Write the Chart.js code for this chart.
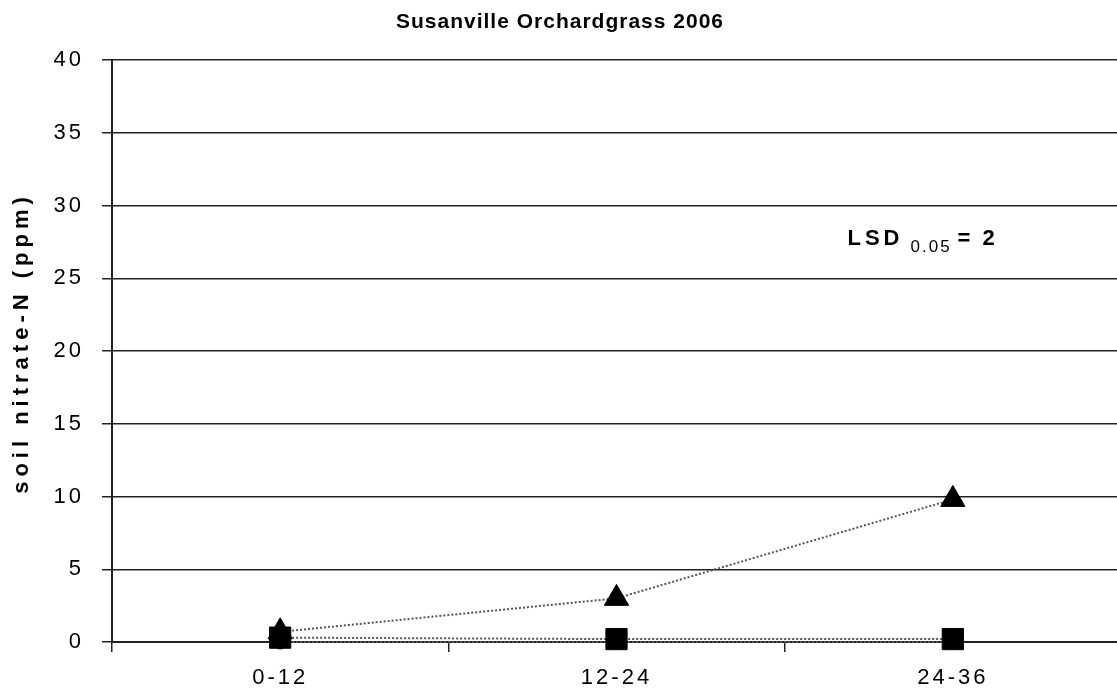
<!DOCTYPE html>
<html lang="en">
<head>
  <meta charset="UTF-8">
  <title>Susanville Orchardgrass 2006</title>
  <style>
    body {
      margin: 0;
      background: #fff;
      overflow: hidden;
    }
    canvas {
      display: block;
    }
  </style>
</head>
<body>
  <canvas id="nitrateChart" width="1121" height="698"></canvas>
  <script src="https://cdn.jsdelivr.net/npm/chart.js"></script>
  <script>
    // Soil depth ranges (inches)
    const depths = ["0-12", "12-24", "24-36"];

    // Soil nitrate-N (ppm) for each treatment
    const triangleSeries = [0.7, 3.0, 9.8];
    const squareSeries = [0.3, 0.2, 0.2];
    const circleSeries = [0, 0, 0];

    const yTicks = [0, 5, 10, 15, 20, 25, 30, 35, 40];

    const chartTitle = "Susanville Orchardgrass 2006";
    const yTitle = "soil nitrate-N (ppm)";

    const fontFamily = "'Liberation Sans', Arial, sans-serif";

    // letter spacing for the text Chart.js draws itself (tick labels)
    const spacingPlugin = {
      id: "spacing",
      beforeLayout(chart) { chart.ctx.letterSpacing = "3px"; },
      beforeDraw(chart) { chart.ctx.letterSpacing = "3px"; }
    };

    // Chart title, axis title and LSD note
    const textPlugin = {
      id: "texts",
      afterDraw(chart) {
        const ctx = chart.ctx;
        const area = chart.chartArea;
        const y = chart.scales.y;
        const x = chart.scales.x;
        ctx.save();
        ctx.fillStyle = "#000";

        // title
        ctx.letterSpacing = "1px";
        ctx.font = "bold 21px " + fontFamily;
        ctx.textAlign = "center";
        ctx.textBaseline = "middle";
        ctx.fillText(chartTitle, 560, 22);

        // y axis title
        ctx.save();
        ctx.translate(22, (area.top + area.bottom) / 2 - 8);
        ctx.rotate(-Math.PI / 2);
        ctx.letterSpacing = "5px";
        ctx.font = "bold 22px " + fontFamily;
        ctx.fillText(yTitle, 0, 0);
        ctx.restore();

        // LSD 0.05 = 2
        const baseY = y.getPixelForValue(27.3);
        let px = x.getPixelForValue(1) + 231;
        ctx.textAlign = "left";
        ctx.textBaseline = "alphabetic";
        ctx.letterSpacing = "4px";
        ctx.font = "bold 22px " + fontFamily;
        ctx.fillText("LSD", px, baseY);
        px += ctx.measureText("LSD").width + 7;
        ctx.letterSpacing = "2px";
        ctx.font = "17px " + fontFamily;
        ctx.fillText("0.05", px, baseY + 7);
        px += ctx.measureText("0.05").width + 6;
        ctx.letterSpacing = "3px";
        ctx.font = "bold 22px " + fontFamily;
        ctx.fillText("= 2", px, baseY);
        ctx.restore();
      }
    };

    const dotted = {
      borderColor: "#555",
      borderWidth: 2,
      borderDash: [2, 2],
      fill: false,
      tension: 0,
      clip: false
    };

    const ctx = document.getElementById("nitrateChart").getContext("2d");
    const chart = new Chart(ctx, {
      type: "line",
      data: {
        labels: depths,
        datasets: [
          Object.assign({
            label: "square",
            data: squareSeries,
            pointStyle: "rect",
            pointRadius: 15,
            pointBackgroundColor: "#000",
            pointBorderColor: "#000",
            pointBorderWidth: 1,
            order: 1
          }, dotted),
          Object.assign({
            label: "circle",
            data: circleSeries,
            pointStyle: "circle",
            pointRadius: 7,
            pointBackgroundColor: "#fff",
            pointBorderColor: "#000",
            pointBorderWidth: 1,
            order: 2
          }, dotted),
          Object.assign({
            label: "triangle",
            data: triangleSeries,
            pointStyle: "triangle",
            pointRadius: 14,
            pointBackgroundColor: "#000",
            pointBorderColor: "#000",
            pointBorderWidth: 1,
            order: 3
          }, dotted)
        ]
      },
      options: {
        responsive: false,
        animation: false,
        layout: {
          autoPadding: false,
          padding: { top: 60, left: 0, right: 0, bottom: 0 }
        },
        plugins: {
          legend: { display: false },
          title: { display: false },
          tooltip: { enabled: false }
        },
        scales: {
          x: {
            type: "category",
            offset: true,
            grid: {
              offset: true,
              drawOnChartArea: false,
              drawTicks: true,
              tickLength: 10,
              color: "#222",
              lineWidth: 1.5
            },
            border: { display: true, color: "#222", width: 2 },
            ticks: {
              color: "#000",
              padding: 13,
              font: { family: fontFamily, size: 22 },
              maxRotation: 0
            },
            afterFit(scale) { scale.height = 56; }
          },
          y: {
            min: 0,
            max: 40,
            afterBuildTicks(scale) {
              scale.ticks = yTicks.map(v => ({ value: v }));
            },
            grid: {
              drawTicks: true,
              tickLength: 10,
              color: "#222",
              lineWidth: 1.5
            },
            border: { display: true, color: "#222", width: 2 },
            ticks: {
              color: "#000",
              padding: 18,
              font: { family: fontFamily, size: 22 }
            },
            afterFit(scale) { scale.width = 112; }
          }
        }
      },
      plugins: [spacingPlugin, textPlugin]
    });
  </script>
</body>
</html>
